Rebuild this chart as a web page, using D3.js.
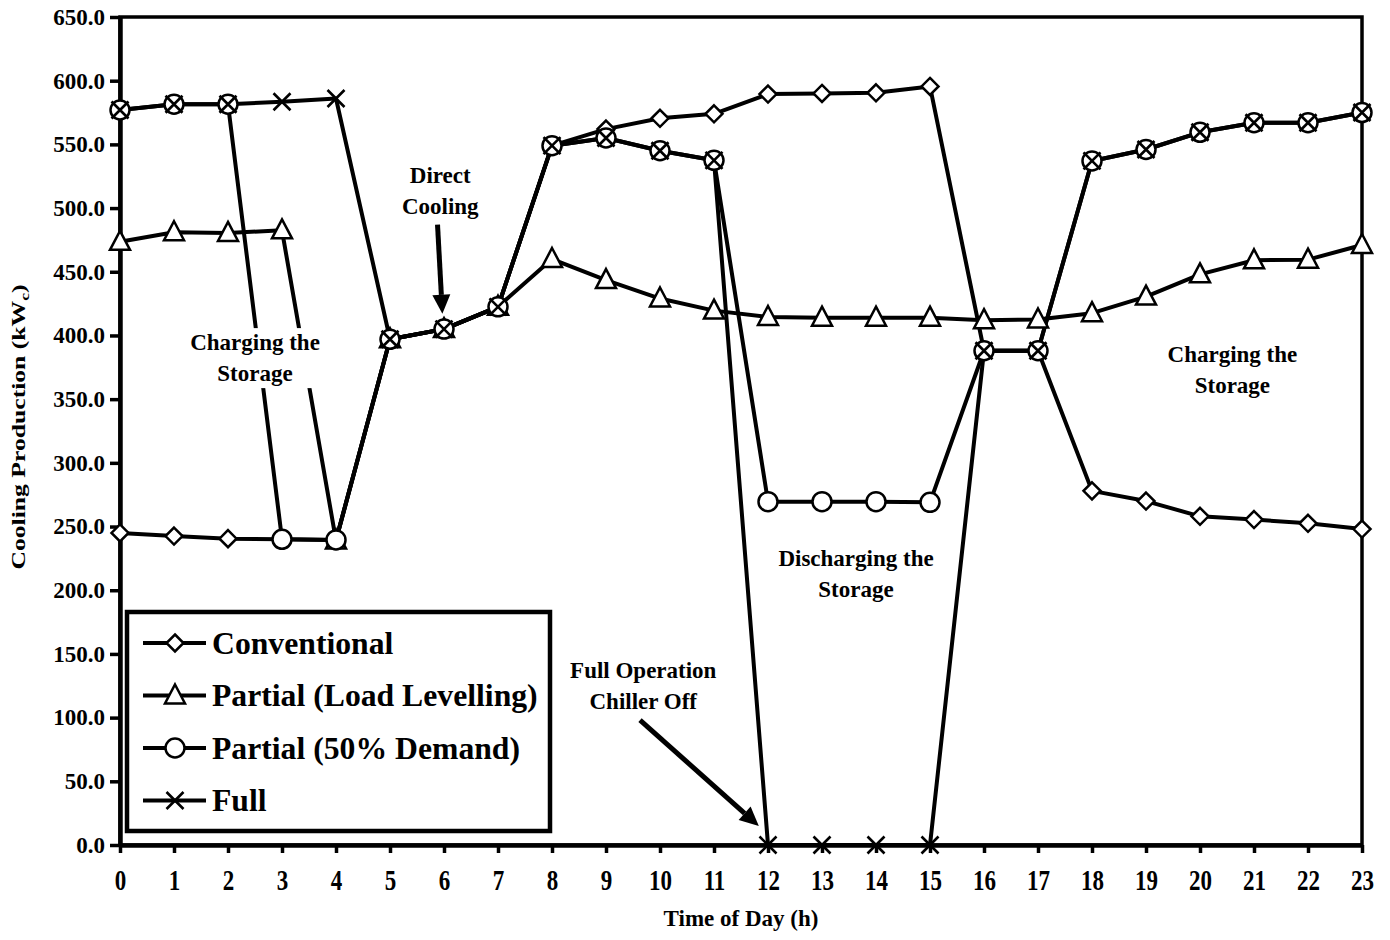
<!DOCTYPE html>
<html>
<head>
<meta charset="utf-8">
<script src="https://cdn.jsdelivr.net/npm/d3@7"></script>
<style>
  html, body { margin: 0; padding: 0; background: #fff; }
  svg { display: block; font-family: "Liberation Serif", "Times New Roman", serif; font-weight: bold; }
</style>
</head>
<body>
<svg id="chart" width="1390" height="940"></svg>
<script>
// Hourly cooling production (kWc) for four chiller / storage strategies
const hours = [0,1,2,3,4,5,6,7,8,9,10,11,12,13,14,15,16,17,18,19,20,21,22,23];
const yTicks = [0,50,100,150,200,250,300,350,400,450,500,550,600,650];

const conventional = [245,242.5,240.5,240,239.5,397,405,422.5,549,562,570.5,574,589.5,590,590.5,595.5,388,388,278,270,258,255.5,252.5,248];
const loadLevelling = [473.5,481,480.5,482.5,239,397,405,422.5,460,443.5,429,419.5,414.5,414,414,414,412,412.5,417.5,430.5,448,459,459.5,471];
const demand50 = [577,581.5,581.5,240,239.5,397,405,422.5,549,555,545,537.5,269.5,269.5,269.5,269,388,388,537,546,559.5,567,567,575];
const fullStorage = [577,581.5,581.5,583.5,586,397,405,422.5,549,555,545,537.5,0,0,0,0,388,388,537,546,559.5,567,567,575];

const seriesNames = ["Conventional", "Partial (Load Levelling)", "Partial (50% Demand)", "Full"];
const seriesMarkers = ["diamond", "triangle", "circle", "cross"];
const seriesValues = [conventional, loadLevelling, demand50, fullStorage];

// Text annotations, anchored in data coordinates (hour, kWc)
const notes = [
  { lines: ["Direct", "Cooling"], hour: 5.93, value: 520 },
  { lines: ["Charging the", "Storage"], hour: 2.5, value: 388.5 },
  { lines: ["Discharging the", "Storage"], hour: 13.63, value: 219 },
  { lines: ["Charging the", "Storage"], hour: 20.6, value: 379 },
  { lines: ["Full Operation", "Chiller Off"], hour: 9.69, value: 131 }
];
const arrows = [
  { from: [5.88, 487], to: [5.97, 417] },
  { from: [9.63, 98], to: [11.83, 15] }
];

const svg = d3.select("#chart");
const plotLeft = 120, plotRight = 1362, plotTop = 17, plotBottom = 845;

const x = d3.scaleLinear().domain([0, 23]).range([plotLeft, plotRight]);
const y = d3.scaleLinear().domain([0, 650]).range([plotBottom, plotTop]);

// Plot frame
svg.append("rect")
  .attr("x", plotLeft).attr("y", plotTop)
  .attr("width", plotRight - plotLeft).attr("height", plotBottom - plotTop)
  .attr("fill", "none").attr("stroke", "#000").attr("stroke-width", 3.5);

// Y axis
const yAxis = svg.append("g")
  .attr("transform", `translate(${plotLeft},0)`)
  .call(d3.axisLeft(y).tickValues(yTicks).tickFormat(d3.format(".1f")).tickSize(10).tickSizeOuter(0).tickPadding(5));
yAxis.select(".domain").attr("stroke-width", 4.5);
yAxis.selectAll(".tick line").attr("stroke-width", 3.5);
yAxis.selectAll(".tick text")
  .attr("font-family", "Liberation Serif, serif")
  .attr("font-weight", "bold")
  .attr("font-size", 23)
  .attr("fill", "#000");

// X axis
const xAxis = svg.append("g")
  .attr("transform", `translate(0,${plotBottom})`)
  .call(d3.axisBottom(x).tickValues(hours).tickFormat(d3.format("d")).tickSize(8).tickSizeOuter(0));
xAxis.select(".domain").attr("stroke-width", 4.5);
xAxis.selectAll(".tick line").attr("stroke-width", 3.5);
xAxis.selectAll(".tick text").remove();
xAxis.selectAll(".tick").append("text")
  .attr("transform", "translate(0,45) scale(1,1.25)")
  .attr("text-anchor", "middle")
  .attr("font-family", "Liberation Serif, serif")
  .attr("font-weight", "bold")
  .attr("font-size", 23)
  .attr("fill", "#000")
  .text(d => d);

// Axis titles
svg.append("text")
  .attr("x", (plotLeft + plotRight) / 2).attr("y", 926)
  .attr("text-anchor", "middle")
  .attr("font-size", 23)
  .text("Time of Day (h)");

const yTitle = svg.append("text")
  .attr("transform", "translate(25,427) rotate(-90) scale(1.35,1)")
  .attr("text-anchor", "middle")
  .attr("font-size", 19);
yTitle.append("tspan").text("Cooling Production (kW");
yTitle.append("tspan").attr("font-size", 13).attr("dy", 4).text("c");
yTitle.append("tspan").attr("dy", -4).text(")");

// Marker shapes
function drawMarker(g, type, cx, cy) {
  const common = s => s.attr("fill", "#fff").attr("stroke", "#000").attr("stroke-width", 2.5);
  if (type === "diamond") {
    const r = 8.5;
    common(g.append("path").attr("d", `M${cx},${cy - r}L${cx + r},${cy}L${cx},${cy + r}L${cx - r},${cy}Z`));
  } else if (type === "triangle") {
    common(g.append("path").attr("d", `M${cx},${cy - 11}L${cx + 10},${cy + 8}L${cx - 10},${cy + 8}Z`));
  } else if (type === "circle") {
    common(g.append("circle").attr("cx", cx).attr("cy", cy).attr("r", 9.5));
  } else {
    const r = 8.5;
    g.append("path")
      .attr("d", `M${cx - r},${cy - r}L${cx + r},${cy + r}M${cx - r},${cy + r}L${cx + r},${cy - r}`)
      .attr("stroke", "#000").attr("stroke-width", 2.6).attr("fill", "none");
  }
}

// Series lines
const line = d3.line().x((d, i) => x(hours[i])).y(d => y(d));
const linesG = svg.append("g");
seriesValues.forEach(vals => {
  linesG.append("path")
    .attr("d", line(vals))
    .attr("fill", "none")
    .attr("stroke", "#000")
    .attr("stroke-width", 4)
    .attr("stroke-linejoin", "round");
});

// Series markers (later series drawn on top)
const markersG = svg.append("g");
seriesValues.forEach((vals, si) => {
  vals.forEach((v, i) => drawMarker(markersG, seriesMarkers[si], x(hours[i]), y(v)));
});

// Annotations in white text boxes
const notesG = svg.append("g").attr("font-size", 23).attr("text-anchor", "middle");
notes.forEach(n => {
  const box = notesG.append("g");
  const bg = box.append("rect").attr("fill", "#fff");
  const t = box.append("text").attr("x", x(n.hour)).attr("y", y(n.value));
  n.lines.forEach((ln, i) => {
    t.append("tspan").attr("x", x(n.hour)).attr("dy", i === 0 ? 0 : 31).text(ln);
  });
  const bb = t.node().getBBox();
  bg.attr("x", bb.x - 3).attr("y", bb.y - 2).attr("width", bb.width + 6).attr("height", bb.height + 4);
});

// Arrows
arrows.forEach(a => {
  const x1 = x(a.from[0]), y1 = y(a.from[1]);
  const x2 = x(a.to[0]), y2 = y(a.to[1]);
  const ang = Math.atan2(y2 - y1, x2 - x1);
  const headLen = 19, headHalf = 9;
  const bx = x2 - headLen * Math.cos(ang), by = y2 - headLen * Math.sin(ang);
  svg.append("line")
    .attr("x1", x1).attr("y1", y1).attr("x2", bx).attr("y2", by)
    .attr("stroke", "#000").attr("stroke-width", 5);
  const px = -Math.sin(ang) * headHalf, py = Math.cos(ang) * headHalf;
  svg.append("path")
    .attr("d", `M${x2},${y2}L${bx + px},${by + py}L${bx - px},${by - py}Z`)
    .attr("fill", "#000");
});

// Legend
const legend = svg.append("g");
legend.append("rect")
  .attr("x", 127).attr("y", 612).attr("width", 423).attr("height", 219)
  .attr("fill", "#fff").attr("stroke", "#000").attr("stroke-width", 4.5);
seriesNames.forEach((name, i) => {
  const cy = 643 + i * 52.5;
  legend.append("line")
    .attr("x1", 143).attr("x2", 206).attr("y1", cy).attr("y2", cy)
    .attr("stroke", "#000").attr("stroke-width", 4);
  drawMarker(legend, seriesMarkers[i], 175, cy);
  legend.append("text")
    .attr("x", 212).attr("y", cy + 10.5)
    .attr("font-size", 31.7)
    .text(name);
});
</script>
</body>
</html>
